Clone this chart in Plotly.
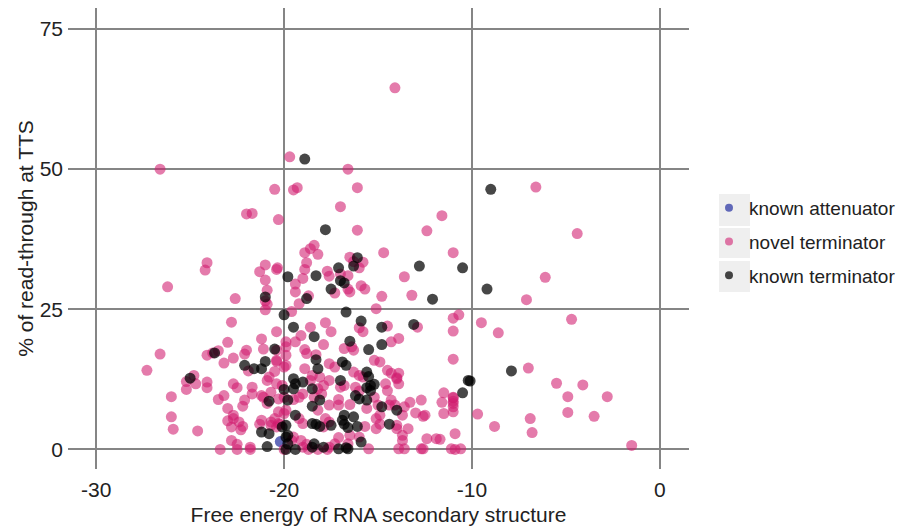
import plotly.graph_objects as go

# known attenuator
att_x = [-20.2]
att_y = [1.4]

# known terminator
kt_pts = [(-18.9,51.8),(-17.8,39.2),(-9.0,46.4),(-21.0,27.2),(-19.8,30.8),(-18.3,31.0),(-17.1,32.4),(-17.0,30.1),
(-16.8,29.7),(-17.5,28.6),(-16.1,34.2),(-16.3,32.7),(-12.8,32.7),(-12.1,26.8),(-10.5,32.4),(-9.2,28.6),(-7.9,14.0),
(-10.1,12.2),(-10.5,10.1),(-18.8,26.9),(-20.0,24.0),(-20.5,17.9),(-23.7,17.2),(-22.1,15.0),(-21.6,14.4),(-21.2,14.4),
(-21.0,15.7),(-25.0,12.7),(-20.8,8.6),(-20.0,10.7),(-21.2,3.1),(-20.8,2.8),(-20.1,4.0),(-19.8,2.5),(-20.9,0.5),(-19.9,0.0),
(-19.4,0.0),(-19.5,21.8),(-16.7,24.5),(-18.4,20.1),(-15.9,22.9),(-14.8,21.8),(-13.1,22.3),(-14.8,18.7),(-15.5,17.8),
(-16.5,19.3),(-18.3,16.0),(-16.9,15.6),(-16.7,15.0),(-18.2,14.4),(-15.6,13.8),(-15.5,13.0),(-17.0,12.3),(-19.0,12.0),
(-19.5,12.6),(-19.4,11.7),(-19.5,10.8),(-18.5,10.8),(-19.8,8.8),(-16.2,9.6),(-16.0,9.0),(-15.6,11.0),(-15.4,10.5),
(-15.4,11.4),(-15.2,11.6),(-15.6,8.8),(-14.8,7.6),(-14.0,7.0),(-18.1,8.8),(-18.5,7.7),(-19.4,6.1),(-19.9,4.3),(-18.5,4.6),
(-18.3,4.5),(-18.1,4.1),(-17.5,4.3),(-16.9,5.2),(-16.8,6.1),(-16.8,4.5),(-16.6,3.9),(-16.3,5.8),(-16.1,4.1),(-14.4,4.5),
(-15.9,1.3),(-16.7,0.3),(-17.9,0.4),(-18.4,1.0),(-18.5,0.4),(-19.9,2.2),(-19.8,1.0),(-17.1,0.1),(-16.6,0.1),(-10.2,12.3)]
kt_x = [p[0] for p in kt_pts]
kt_y = [p[1] for p in kt_pts]

# novel terminator
nt_pts = [(-26.6,50.0),(-20.5,46.4),(-22.0,42.0),(-21.7,42.1),(-20.3,41.0),(-24.1,33.3),(-24.2,32.0),(-26.2,29.0),
(-21.0,32.9),(-21.3,31.7),(-20.4,32.1),(-20.35,32.4),(-21.0,30.2),(-20.9,28.4),(-22.6,26.9),(-19.7,52.2),(-16.6,50.0),
(-19.5,46.3),(-19.3,46.7),(-16.1,46.7),(-17.0,43.3),(-11.6,41.7),(-16.1,39.1),(-12.4,39.0),(-11.0,35.1),(-14.7,35.1),
(-18.4,36.4),(-18.6,35.8),(-18.9,35.1),(-18.2,34.8),(-18.8,33.3),(-18.9,32.1),(-19.0,30.5),(-19.4,29.5),(-19.4,28.1),
(-18.7,27.4),(-17.7,31.8),(-17.6,30.9),(-17.0,31.3),(-17.3,27.9),(-16.6,31.0),(-16.6,28.6),(-16.5,28.1),(-16.5,34.3),
(-16.3,33.5),(-15.8,33.4),(-16.0,32.4),(-15.9,29.2),(-15.7,28.6),(-14.8,27.3),(-13.6,30.8),(-13.2,27.5),(-14.1,64.5),
(-6.6,46.8),(-4.4,38.5),(-6.1,30.7),(-7.1,26.7),(-11.0,23.4),(-10.7,24.0),(-9.5,22.6),(-8.6,20.8),(-11.0,21.1),(-4.7,23.2),
(-11.0,16.1),(-7.0,14.5),(-11.5,10.1),(-11.6,8.4),(-11.0,9.2),(-11.0,8.6),(-11.0,7.6),(-11.5,6.4),(-11.0,6.7),(-9.7,6.3),
(-5.5,11.8),(-4.1,11.5),(-4.9,9.4),(-2.8,9.4),(-4.9,6.6),(-3.5,5.9),(-6.9,5.5),(-8.8,4.1),(-6.8,3.0),(-10.9,2.8),(-11.7,1.8),
(-11.1,0.1),(-10.6,0.1),(-1.5,0.7),
(-21.0,26.5),(-20.9,25.9),(-21.0,24.9),(-22.8,22.7),(-21.2,19.7),(-20.4,21.0),(-23.0,19.1),(-21.1,17.9),(-19.9,18.3),
(-26.6,17.0),(-27.3,14.1),(-24.1,16.8),(-23.8,17.2),(-23.5,17.6),(-22.7,16.3),(-23.2,15.4),(-22.1,17.0),(-22.0,17.7),
(-21.9,14.0),(-20.4,15.7),(-20.0,14.7),(-20.5,13.9),(-20.8,12.9),(-20.9,12.3),(-25.2,12.1),(-24.8,13.2),(-24.7,11.7),
(-25.2,10.7),(-24.1,12.0),(-24.1,11.0),(-26.0,9.4),(-22.7,11.7),(-22.5,11.0),(-21.7,11.1),(-21.7,9.9),(-23.2,9.6),
(-23.5,8.9),(-22.1,8.8),(-22.2,7.7),(-21.2,9.6),(-21.1,9.3),(-20.9,8.2),(-20.4,11.7),(-20.1,11.4),(-20.0,9.3),(-20.7,10.2),
(-23.0,7.3),(-22.7,6.1),(-22.7,5.5),(-23.0,5.1),(-22.8,4.0),(-22.4,4.9),(-22.2,4.1),(-22.3,3.5),(-26.0,5.8),(-25.9,3.6),
(-24.6,3.3),(-21.3,4.5),(-21.2,5.2),(-20.7,4.3),(-20.7,4.9),(-20.4,4.0),(-20.2,4.5),(-22.8,1.6),(-23.4,0.0),(-22.5,0.0),
(-22.5,0.9),(-21.8,0.4),(-21.8,0.0),(-20.0,0.0),
(-19.2,26.0),(-19.6,24.6),(-15.1,25.1),(-18.6,21.8),(-17.8,22.6),(-17.5,21.0),(-19.1,20.3),(-16.0,21.7),(-15.8,21.0),
(-14.5,22.0),(-12.9,21.8),(-13.9,19.8),(-14.3,19.2),(-16.8,18.0),(-16.4,18.3),(-16.3,17.7),(-17.9,18.7),(-19.9,19.2),
(-20.4,17.7),(-19.4,19.2),(-18.3,16.9),(-18.9,17.8),(-18.8,17.1),(-20.4,15.9),(-19.9,16.8),(-19.9,15.0),(-17.3,14.7),
(-17.6,15.3),(-15.2,15.9),(-14.9,15.6),(-14.3,13.6),(-14.5,14.1),(-16.0,13.2),(-15.8,12.9),(-16.3,13.8),(-18.9,14.4),
(-18.5,13.2),(-18.1,12.9),(-18.6,12.3),(-17.6,12.3),(-17.9,11.4),(-18.2,10.8),(-18.0,9.9),(-18.4,9.3),(-19.0,9.9),
(-19.2,9.3),(-19.5,8.9),(-20.3,9.0),(-17.0,11.1),(-16.8,11.4),(-16.2,11.1),(-16.0,10.4),(-15.2,9.3),(-15.0,7.9),
(-15.6,7.3),(-14.5,10.5),(-14.3,8.8),(-14.4,7.9),(-14.1,7.9),(-14.6,11.7),(-14.0,12.6),(-13.9,11.7),(-13.6,7.6),
(-13.3,8.4),(-12.7,8.8),(-17.6,7.9),(-17.1,8.9),(-16.5,8.0),(-17.1,7.9),(-18.2,7.0),(-19.9,7.0),(-20.0,6.4),(-20.3,6.7),
(-20.5,5.5),(-20.3,4.6),(-19.2,5.5),(-19.0,4.6),(-17.6,4.9),(-17.8,5.5),(-17.9,4.0),(-15.1,5.5),(-14.9,4.5),(-15.1,3.7),
(-15.7,4.1),(-14.0,4.3),(-14.0,3.7),(-13.4,3.7),(-13.7,2.5),(-13.7,1.6),(-16.0,2.2),(-16.5,2.5),(-16.6,1.0),(-17.1,2.1),
(-17.3,1.0),(-17.6,0.4),(-18.8,0.9),(-19.0,0.4),(-19.1,1.6),(-19.5,2.2),(-19.6,1.6),(-18.2,0.0),(-18.7,0.0),(-17.7,0.0),
(-15.5,0.1),(-13.9,0.1),(-13.6,0.1),(-12.7,0.1),(-12.6,0.1),(-10.9,0.0),(-12.4,1.9),(-11.9,1.9),(-11.0,9.3),(-11.0,8.2),
(-12.6,5.9),(-13.0,6.5),(-12.5,6.1),(-13.7,6.1),(-14.9,6.1),(-13.9,13.6),(-14.0,12.8)]
nt_x = [p[0] for p in nt_pts]
nt_y = [p[1] for p in nt_pts]

x_ticks = [-30, -20, -10, 0]
y_ticks = [0, 25, 50, 75]

series = [
    ("known attenuator", att_x, att_y, "rgba(60,70,170,0.8)"),
    ("novel terminator", nt_x, nt_y, "rgba(208,28,110,0.58)"),
    ("known terminator", kt_x, kt_y, "rgba(0,0,0,0.72)"),
]

FONT = "Liberation Sans, Arial, sans-serif"
# the page body adds an 8px offset; the figure is sized to end at the window edge
OFF = 8
W, H = 904 - OFF, 529 - OFF
L, T = 68 - OFF, 8 - OFF
PW, PH = 621, 461
R = W - L - PW
B = H - T - PH


def px_x(px):  # window pixel -> paper x
    return (px - OFF - L) / PW


def px_y(py):  # window pixel -> paper y
    return (T + PH - (py - OFF)) / PH


fig = go.Figure()
for name, xs, ys, col in series:
    fig.add_trace(go.Scatter(x=xs, y=ys, mode="markers", name=name, showlegend=False,
                             legendgroup=name,
                             marker=dict(size=11, color=col, line=dict(width=0))))
# legend entries (smaller symbols, as in the reference)
for name, xs, ys, col in series:
    fig.add_trace(go.Scatter(x=[None], y=[None], mode="markers", name=name, showlegend=True,
                             legendgroup=name,
                             marker=dict(size=8, color=col, line=dict(width=0))))

# grey boxes behind legend symbols
for y0, y1 in [(194, 226), (228, 258), (261, 292)]:
    fig.add_shape(type="rect", xref="paper", yref="paper",
                  x0=px_x(719), x1=px_x(750), y0=px_y(y1), y1=px_y(y0),
                  fillcolor="#efefef", line=dict(width=0), layer="below")

fig.update_layout(
    width=W, height=H,
    margin=dict(l=L, r=R, t=T, b=B, autoexpand=False),
    paper_bgcolor="white", plot_bgcolor="white",
    font=dict(family=FONT, size=20, color="#222"),
    xaxis=dict(range=[-31.5, 1.55], tickvals=x_ticks, ticktext=[str(v) for v in x_ticks],
               showgrid=True, gridcolor="#858585", gridwidth=2, zeroline=False, showline=False,
               ticks="", tickfont=dict(size=21), automargin=False, ticklabelstandoff=6,
               title=dict(text="Free energy of RNA secondary structure", font=dict(size=21), standoff=7)),
    yaxis=dict(range=[-3.5, 78.75], tickvals=y_ticks, ticktext=[str(v) for v in y_ticks],
               showgrid=True, gridcolor="#858585", gridwidth=2, zeroline=False, showline=False,
               ticks="", tickfont=dict(size=21), automargin=False, ticklabelstandoff=4,
               title=dict(text="% of read-through at TTS", font=dict(size=21), standoff=0)),
    legend=dict(x=px_x(709), y=px_y(189), xanchor="left", yanchor="top",
                font=dict(size=19), bgcolor="rgba(0,0,0,0)", tracegroupgap=6,
                traceorder="grouped"),
    showlegend=True,
)

fig.write_html("out.html", post_script="document.body.style.overflow='hidden';")
